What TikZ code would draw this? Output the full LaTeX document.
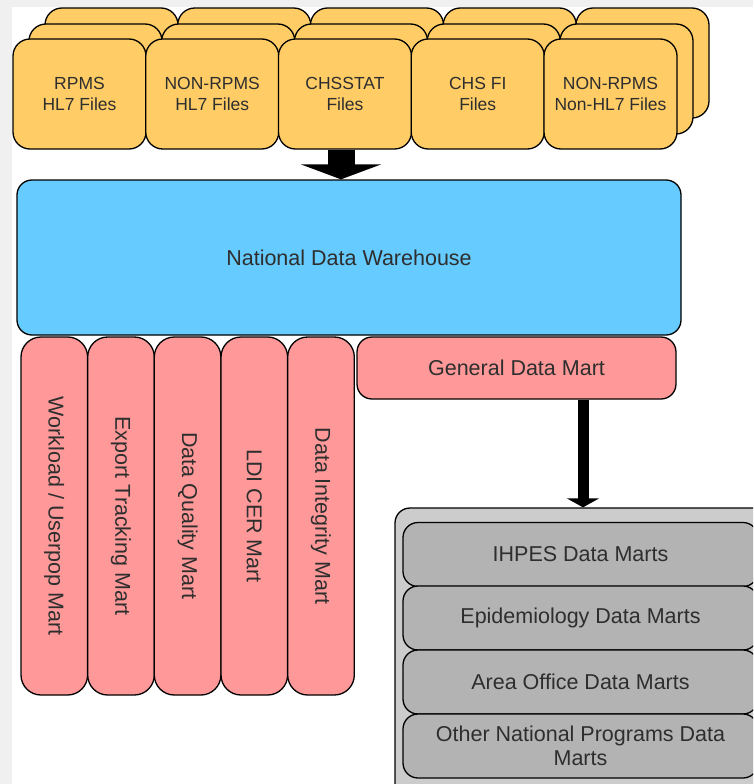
\documentclass[tikz,border=0pt]{standalone}
\usepackage{fontspec}
\setmainfont{Liberation Sans}
\usetikzlibrary{arrows.meta}
\definecolor{filecol}{HTML}{FFCC66}
\definecolor{ndwcol}{HTML}{66CCFF}
\definecolor{martcol}{HTML}{FF9999}
\definecolor{contcol}{HTML}{CCCCCC}
\definecolor{itemcol}{HTML}{B3B3B3}
\definecolor{txtcol}{HTML}{2E2E2E}
\definecolor{bgcol}{HTML}{F0F0F0}
\tikzset{
  box/.style={draw=black, line width=1.3pt, rounded corners=15pt, inner sep=0pt, text=txtcol, align=center, font=\fontsize{21.5}{24}\selectfont},
  filebox/.style={box, fill=filecol, minimum width=133pt, minimum height=110pt, rounded corners=17pt, font=\fontsize{17.5}{21}\selectfont},
  vmart/.style={box, fill=martcol, rotate=-90, minimum width=358pt, minimum height=66.6pt, rounded corners=20pt},
  item/.style={box, fill=itemcol, minimum width=355pt, minimum height=64pt}
}
\begin{document}
\begin{tikzpicture}[x=1pt,y=-1pt]
\useasboundingbox (0,0) rectangle (753,784);
\clip (0,0) rectangle (753,784);
\fill[bgcol] (0,0) rectangle (753,784);
\fill[white] (12,7) rectangle (753,784);

% file stacks: back layers, middle layers, front
\foreach \i in {0,...,4}{
  \node[filebox] (back\i) at ({79.5+132.75*\i+32}, {94-31}) {};
}
\foreach \i in {0,...,4}{
  \node[filebox] (mid\i) at ({79.5+132.75*\i+16}, {94-15}) {};
}
\node[filebox] (rpms) at (79.5,94) {RPMS\\HL7 Files};
\node[filebox] (nonrpms) at (212.25,94) {NON-RPMS\\HL7 Files};
\node[filebox] (chsstat) at (345,94) {CHSSTAT\\Files};
\node[filebox] (chsfi) at (477.75,94) {CHS FI\\Files};
\node[filebox] (nonhl7) at (610.5,94) {NON-RPMS\\Non-HL7 Files};

% warehouse
\node[box, fill=ndwcol, minimum width=664pt, minimum height=155pt] (ndw) at (349,257.5) {National Data Warehouse};

% vertical marts
\node[vmart] (wl) at (54.3,516) {Workload / Userpop Mart};
\node[vmart] (et) at (121,516) {Export Tracking Mart};
\node[vmart] (dq) at (187.6,516) {Data Quality Mart};
\node[vmart] (ldi) at (254.3,516) {LDI CER Mart};
\node[vmart] (di) at (321,516) {Data Integrity Mart};

% general data mart
\node[box, fill=martcol, minimum width=319pt, minimum height=62pt] (gdm) at (516.5,368) {General Data Mart};

% container and items
\node[box, fill=contcol, minimum width=380pt, minimum height=292pt] (cont) at (585,654) {};
\node[item] (ihpes) at (580.5,554.5) {IHPES Data Marts};
\node[item] (epi) at (580.5,618) {Epidemiology Data Marts};
\node[item] (area) at (580.5,682) {Area Office Data Marts};
\node[item] (other) at (580.5,746) {Other National Programs Data\\Marts};

% arrows
\coordinate (a1) at (341,0);
\draw[line width=27pt, -{Triangle[width=80pt,length=15pt]}] (a1 |- chsstat.south) -- (a1 |- ndw.north);
\coordinate (a2) at (583,0);
\draw[line width=11pt, -{Triangle[width=32pt,length=9pt]}] (a2 |- gdm.south) -- (a2 |- cont.north);
\end{tikzpicture}
\end{document}
